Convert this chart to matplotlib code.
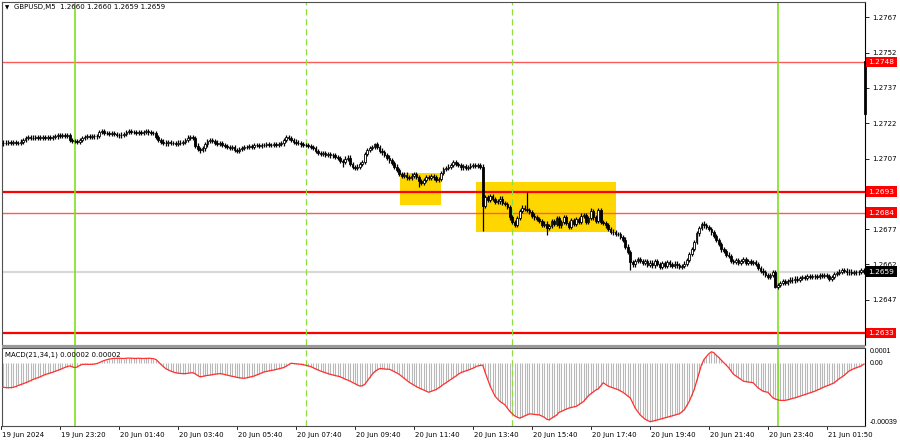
import matplotlib.pyplot as plt
from matplotlib.patches import Rectangle

# closes, pips above 1.2600 (M5 bars)
closes = [
    113.4, 113.8, 113.5, 113.9, 113.6, 114.0, 113.7, 113.5, 114.2,
    115.0, 115.8, 116.0, 115.6, 115.9, 116.2, 115.8,
    115.9, 116.1, 115.7, 116.0, 115.8, 116.1,
    116.4, 116.8, 116.5, 116.9, 116.6, 117.0,
    115.0, 114.6, 114.4, 114.2, 114.8, 115.6,
    116.2, 116.5, 116.3, 116.7, 116.4, 116.6,
    118.2, 118.8, 118.0,
    117.8, 117.5, 117.9, 117.4,
    117.0, 116.8, 117.2, 117.5,
    118.3, 118.6, 118.4, 118.2,
    118.0, 118.3, 117.9, 118.2, 118.5, 118.1, 117.8, 118.0,
    116.0, 114.8, 114.2,
    113.8, 113.4, 113.9, 113.5, 113.7, 113.3, 113.8, 113.6, 114.0,
    114.8, 115.8, 116.3, 115.8,
    112.5, 111.2,
    110.5, 111.3,
    113.0, 114.5, 115.0, 114.3,
    113.8, 113.2, 113.6, 112.8,
    112.3, 112.0, 111.6, 111.9,
    110.6, 110.2,
    111.0, 111.5, 111.8, 112.0, 112.3, 112.1,
    112.6, 112.8, 112.5, 112.9, 112.7, 113.0,
    112.6, 112.9, 113.2, 112.8, 113.1, 113.4,
    115.0, 116.2, 115.8,
    114.8, 114.2, 113.8, 113.6,
    113.0, 112.6, 112.8, 112.3,
    112.0, 111.6,
    110.2, 109.3, 109.0, 109.4,
    108.6, 108.9, 108.3, 108.6,
    107.8, 107.2, 106.0, 105.6,
    107.0, 107.4,
    104.8, 103.4, 103.0, 103.6,
    104.8, 105.6,
    108.8, 110.6,
    111.4, 112.0, 113.0, 111.8,
    110.4, 109.6, 108.4, 107.4,
    106.2, 105.0, 103.6, 102.2,
    100.4, 99.6, 100.2, 99.0, 98.6, 99.8, 100.4, 99.2,
    97.4, 96.8, 97.8,
    99.2, 98.6, 99.6, 99.0,
    98.0, 98.4,
    100.8, 102.4, 103.0, 103.6,
    104.4, 105.6, 104.8, 104.2,
    103.2, 103.8, 103.0, 103.4,
    104.0, 104.4, 103.8, 104.2, 103.6,
    87.0,
    90.6, 89.4, 91.0, 89.8,
    88.4, 88.8,
    90.0, 88.2, 87.6, 86.4,
    82.0, 80.2,
    78.8, 81.8,
    84.6, 86.2, 85.6,
    85.0, 84.2,
    82.8, 82.0, 81.2, 80.4,
    78.8, 79.4, 77.6, 78.4,
    80.6, 79.2, 81.8, 78.6, 80.2, 82.0, 79.6, 78.0, 80.8, 79.4, 81.4, 80.0,
    82.8, 83.0, 80.2, 81.6, 84.8, 82.0, 80.6, 85.0,
    80.2, 79.6, 78.6, 77.0,
    76.0, 75.6, 75.0, 74.8,
    73.6, 72.6,
    69.6, 67.4,
    63.0, 62.0, 63.6,
    64.2, 63.6, 62.8, 63.4,
    61.8, 62.8, 61.6, 63.4, 62.2, 60.8, 62.6, 61.4, 63.0, 62.0, 61.2, 62.4, 61.6, 61.0,
    61.4, 62.4, 64.0,
    66.4, 68.6, 71.6,
    75.2, 77.4, 79.4,
    78.6, 78.0, 77.2,
    75.6, 74.2,
    72.4, 70.6,
    68.4, 67.6,
    66.2, 65.6,
    63.6, 63.0, 63.8, 62.8,
    63.4, 64.2, 62.6, 63.6,
    62.8, 63.0, 62.2,
    60.4, 59.4, 58.6,
    57.4, 56.8,
    57.6, 58.8,
    52.6, 53.4,
    54.2, 54.8, 54.0, 55.0,
    55.6, 55.2, 56.0, 55.6,
    56.4, 56.8, 56.2, 57.0, 56.6, 56.9,
    57.2, 56.8, 57.4, 57.0, 57.6, 57.2,
    55.8, 56.6,
    57.8, 58.4, 59.0, 59.8, 59.4,
    58.6, 59.0, 58.4, 58.8, 58.6, 58.9, 59.6, 59.0,
]
first_open = 113.6
# notable wicks (bar index -> pips)
wick_highs = {41: 119.5, 76: 117.0, 116: 117.0, 152: 113.8, 214: 92.8, 285: 80.0, 240: 86.0, 243: 86.0}
wick_lows = {81: 109.3, 96: 109.3, 139: 103.5, 170: 94.9, 196: 76.2, 222: 74.6, 256: 59.6, 315: 52.0}

# MACD(21,34,1) in 1e-5
macd = [
    -16, -16, -16.2, -16.3, -16.2, -16,
    -15.5, -14.8, -14.2, -13.6, -13, -12.3, -11.6, -10.8, -10.2, -9.6,
    -9, -8.2, -7.5, -7, -6.5, -6, -5.4, -4.8, -4.2, -3.5,
    -2.8, -2.2, -1.8, -2.4, -2.9, -2.5, -1.5, -0.8, -0.7, -0.7,
    -0.8, -0.7, -0.6, -0.2, 0.4, 1.2, 1.8, 2.3, 2.7, 3, 3.2,
    3.2, 3.3, 3.2, 3.1, 3.3, 3.4, 3.3, 3.2, 3.2, 3.3, 3.2, 3.1, 3.2, 3.3, 3.2,
    3, 2.5, 1, -0.7, -2.2, -3.6, -4.4, -5.2, -5.8, -6.3,
    -6.6, -6.8, -6.9, -6.9, -6.7, -6.4, -6.3, -7, -8.2, -9,
    -8.8, -8.4, -8.1, -7.9, -7.6, -7.3, -7.1, -6.9, -7.1, -7.5,
    -7.9, -8.3, -8.7, -9, -9.4, -9.7, -9.9, -10, -9.7, -9.3,
    -8.9, -8.5, -7.8, -7.2, -6.5, -5.8, -5.5, -5.1, -4.8, -4.5,
    -4.1, -3.7, -3.3, -2.9, -2, -1, 0, -0.2, -0.4, -0.6,
    -0.7, -1, -1.4, -1.8, -2.2, -3, -3.8, -4.5, -5.2, -5.8,
    -6.3, -6.9, -7.4, -7.8, -8.2, -8.6, -9, -9.8, -10.6, -11.2,
    -11.9, -12.8, -13.6, -14.4, -15.2, -15, -14, -11.8, -9.5, -7.4,
    -5.6, -4.5, -3.6, -3.6, -3.8, -4, -4, -4.8, -5.6, -6.5,
    -7.4, -8.7, -10, -11.3, -12.6, -13.6, -14.6, -15.5, -16.4, -17.1,
    -17.8, -18.6, -19.3, -18.7, -18.1, -17.5, -16.4, -15.3, -14.1, -13,
    -11.9, -10.8, -9.7, -8.6, -7.4, -6.3, -5.7, -5.1, -4.6, -4,
    -3.3, -2.5, -1.8, -1.5, -1.3, -6.3, -10.8, -15.2, -18.6, -22,
    -23.7, -25.4, -26.5, -27.6, -29.8, -32, -33.5, -35, -35.8, -36.5,
    -35.8, -35, -34.3, -33.6, -33.8, -34, -34.2, -34.3, -35.1, -35.9,
    -37.2, -37.7, -36.5, -35.5, -34.5, -32.7, -32, -31.2, -30.5, -29.8,
    -29.4, -29, -28.7, -27.6, -26.5, -25.4, -23.5, -21.6, -20.2, -19,
    -17.8, -17, -15, -13, -14.1, -15.2, -15.8, -16.4, -17, -17.5,
    -18.4, -19.3, -20.5, -21.8, -23, -26.4, -29.8, -32, -34.3, -35.8,
    -37.2, -38, -38.8, -38.5, -38.1, -37.7, -37.2, -36.8, -36.3, -35.9,
    -35.4, -35, -34.5, -34, -33.6, -32.3, -30.9, -28.2, -25.4, -21.5,
    -17.5, -12, -6.3, -1, 2.5, 4.5, 6.3, 7.6, 7, 5.3,
    3.8, 2.1, 0.4, -1.2, -2.9, -5.1, -7.4, -8.5, -9.6, -10.7,
    -11.9, -12.2, -12.5, -12.7, -13, -14.7, -16.4, -17.5, -18.6, -19,
    -19.3, -21.1, -23, -23.8, -24.3, -24.7, -24.7, -24.7, -24.3, -23.9,
    -23.4, -23, -22.5, -21.9, -21.4, -20.8, -20.3, -19.7, -19.2, -18.6,
    -17.9, -17.2, -16.4, -15.7, -15, -14.4, -13.7, -13, -11.6, -10.3,
    -9.2, -8.1, -6.6, -5.2, -4.4, -3.6, -3, -2.4, -1.8, -0.7, 0.2, 0.2,
]

time_labels = ["19 Jun 2024", "19 Jun 23:20", "20 Jun 01:40", "20 Jun 03:40", "20 Jun 05:40",
               "20 Jun 07:40", "20 Jun 09:40", "20 Jun 11:40", "20 Jun 13:40", "20 Jun 15:40",
               "20 Jun 17:40", "20 Jun 19:40", "20 Jun 21:40", "20 Jun 23:40", "21 Jun 01:50"]
label_bars = [0, 24, 48, 72, 96, 120, 144, 168, 192, 216, 240, 264, 288, 312, 336]

price_ticks = [1.2632, 1.2647, 1.2662, 1.2677, 1.2692, 1.2707, 1.2722, 1.2737, 1.2752, 1.2767]
hidden_ticks = [1.2632, 1.2692]  # covered by the level tags
levels_bold = [1.2693, 1.2633]
levels_thin = [1.2748, 1.2684]
last_price = 1.2659
day_lines = [30, 316]
session_lines = [124, 208]
# yellow zones: (bar from, bar to, price low, price high)
zones = [(162.3, 179.0, 1.26873, 1.27008), (193.2, 250.2, 1.26758, 1.26970)]

W, H = 900, 441
plt.rcParams['font.family'] = 'DejaVu Sans'
fig = plt.figure(figsize=(W / 100, H / 100), dpi=100)
ax = fig.add_axes([2 / W, 1 - 345 / H, 863 / W, 343 / H])
ax2 = fig.add_axes([2 / W, 1 - 426 / H, 863 / W, 78 / H])

n = len(closes)
px = [1.26 + c / 10000 for c in closes]
opens = [1.26 + first_open / 10000] + px[:-1]

# candles
for i in range(n):
    o, c = opens[i], px[i]
    hi = max(o, c) + 0.00009
    lo = min(o, c) - 0.00009
    if i in wick_highs:
        hi = 1.26 + wick_highs[i] / 10000
    if i in wick_lows:
        lo = 1.26 + wick_lows[i] / 10000
    ax.vlines(i, lo, hi, color='black', lw=0.9, zorder=3)
    body = max(abs(c - o), 0.00002)
    fc = 'white' if c >= o else 'black'
    ax.add_patch(Rectangle((i - 0.35, min(o, c)), 0.7, body, fc=fc, ec='black', lw=0.6, zorder=4))

for b0, b1, p0, p1 in zones:
    ax.add_patch(Rectangle((b0, p0), b1 - b0, p1 - p0, fc='#ffd700', ec='none', zorder=1))

for lv in levels_bold:
    ax.axhline(lv, color='#ff0000', lw=1.6, zorder=2)
for lv in levels_thin:
    ax.axhline(lv, color='#ff5a5a', lw=1.0, zorder=2)
ax.axhline(last_price, color='#d8d8d8', lw=1.6, zorder=1.5)

for a in (ax, ax2):
    for b in day_lines:
        a.axvline(b, color='#80e020', lw=1.2, zorder=2.5)
    for b in session_lines:
        a.axvline(b, color='#90dd40', lw=0.9, ls=(0, (5, 3)), zorder=2.5)
    a.set_xlim(0.4, 351.5)
    a.set_xticks([])
    for s in ('left', 'top', 'bottom'):
        a.spines[s].set_color('#505050')
        a.spines[s].set_linewidth(0.8)
    a.spines['right'].set_color('black')
    a.spines['right'].set_linewidth(0.8)

ax.set_ylim(1.26278, 1.27735)
ax.yaxis.tick_right()
ax.set_yticks(price_ticks)
ax.set_yticklabels(["" if t in hidden_ticks else f"{t:.4f}" for t in price_ticks])
ax.tick_params(axis='y', labelsize=5, length=3, width=0.6, pad=2, colors='black')

# black marker on the price scale
ax.plot([351.5, 351.5], [1.2748, 1.27263], color='black', lw=2, clip_on=False, zorder=6)

# price tags
tag_kw = dict(transform=ax.get_yaxis_transform(), va='center', ha='left', fontsize=5.3,
              color='white', clip_on=False, zorder=7)
for lv in levels_bold + levels_thin:
    ax.text(1.004, lv, f"{lv:.4f}", bbox=dict(boxstyle='square,pad=0.3', fc='#ff0000', ec='none'), **tag_kw)
ax.text(1.004, last_price, f"{last_price:.4f}", bbox=dict(boxstyle='square,pad=0.3', fc='black', ec='none'), **tag_kw)

ax.text(0.004, 0.99, "\u25bc", transform=ax.transAxes, fontsize=4, va='top', ha='left')
ax.text(0.014, 0.993, "GBPUSD,M5  1.2660 1.2660 1.2659 1.2659", transform=ax.transAxes,
        fontsize=5, va='top', ha='left')

# separator between panels
fig.patches.append(Rectangle((2 / W, 1 - 348 / H), 863 / W, 3 / H, transform=fig.transFigure,
                             fc='#9a9a9a', ec='none'))

# MACD panel
m = [v / 100000 for v in macd[:n]]
xs = list(range(len(m)))
ax2.vlines(xs, 0, m, color='#b8b8b8', lw=0.8, zorder=1)
ax2.plot(xs, m, color='#ff3030', lw=0.9, zorder=3)
ax2.set_ylim(-0.000417, 0.000101)
ax2.set_yticks([])
side_kw = dict(transform=ax2.get_yaxis_transform(), fontsize=5, ha='left', family='Liberation Sans')
ax2.text(1.005, 0.0001, "0.0001", va='top', **side_kw)
ax2.text(1.005, 0.0, "0.00", va='center', **side_kw)
ax2.text(1.005, -0.000417, "-0.00039", va='bottom', **side_kw)
ax2.text(0.004, 0.96, "MACD(21,34,1) 0.00002 0.00002", transform=ax2.transAxes, fontsize=5,
         va='top', ha='left', zorder=5)

# time axis
for b, lab in zip(label_bars, time_labels):
    ax2.plot([b, b], [-0.000417, -0.000437], color='black', lw=0.6, clip_on=False)
    ax2.annotate(lab, xy=(b, 0), xycoords=('data', 'axes fraction'), xytext=(1, -4),
                 textcoords='offset points', fontsize=5, va='top', ha='left', annotation_clip=False)

fig.savefig("out.png", dpi=100, facecolor='white')
